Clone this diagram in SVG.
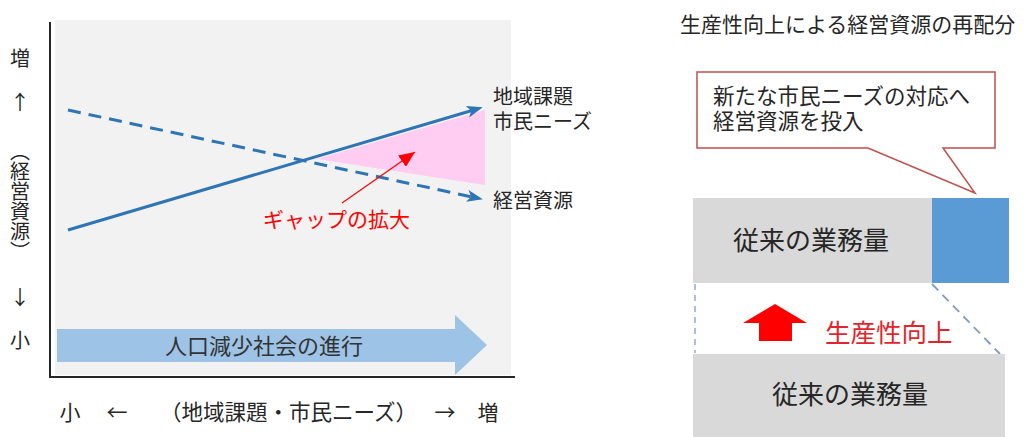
<svg xmlns="http://www.w3.org/2000/svg" width="1029" height="437" viewBox="0 0 1029 437">
<style>
text{font-family:"Noto Sans CJK JP","Noto Sans",sans-serif;fill:#262626}
.lbl{font-size:20px}
.red{fill:#ff0000}
</style>
<defs>
<marker id="ahb" viewBox="0 0 16 12" refX="10" refY="6" markerWidth="16" markerHeight="12" markerUnits="userSpaceOnUse" orient="auto"><path d="M0,0 L16,6 L0,12 L4,6 Z" fill="#2e75b6"/></marker>
<marker id="ahr" viewBox="0 0 16 14" refX="16" refY="7" markerWidth="16" markerHeight="14" markerUnits="userSpaceOnUse" orient="auto"><path d="M0,0 L16,7 L0,14 Z" fill="#ff0000"/></marker>
</defs>
<rect width="1029" height="437" fill="#ffffff"/>

<g id="chart">
<rect x="55" y="20" width="456" height="355" fill="#f2f2f2"/>
<polygon points="317,159 485,110 485,185" fill="#ffccf2"/>
<line x1="50" y1="22" x2="50" y2="378" stroke="#262626" stroke-width="2"/>
<line x1="50" y1="377" x2="515" y2="377" stroke="#262626" stroke-width="2"/>
</g>

<g id="connectors">
<line x1="68" y1="230" x2="477" y2="109" stroke="#2e75b6" stroke-width="3" marker-end="url(#ahb)"/>
<line x1="68" y1="110" x2="477" y2="198" stroke="#2e75b6" stroke-width="3" stroke-dasharray="13 8" marker-end="url(#ahb)"/>
<line x1="342" y1="203" x2="415" y2="152" stroke="#ff0000" stroke-width="1.2" marker-end="url(#ahr)"/>
<line x1="695" y1="284" x2="695" y2="353" stroke="#8faadc" stroke-width="1.5" stroke-dasharray="6 5"/>
<line x1="932" y1="284" x2="1000" y2="354" stroke="#7f9bbf" stroke-width="1.8" stroke-dasharray="9 6"/>
</g>

<g id="labels-lines">
<text class="lbl" x="493" y="104">地域課題<tspan x="493" y="129">市民ニーズ</tspan></text>
<text class="lbl" x="493" y="208">経営資源</text>
<text class="red" x="263" y="227" font-size="21">ギャップの拡大</text>
</g>

<g id="y-axis-label">
<text class="lbl" x="20" y="66" text-anchor="middle">増</text>
<text class="lbl" x="20" y="110" text-anchor="middle">↑</text>
<text class="lbl" x="20" y="141" style="writing-mode:vertical-rl">（経営資源）</text>
<text class="lbl" x="20" y="305" text-anchor="middle">↓</text>
<text class="lbl" x="20" y="348" text-anchor="middle">小</text>
</g>

<g id="x-axis-label">
<text x="70" y="420" font-size="21" text-anchor="middle">小</text>
<text x="117" y="420" font-size="21" text-anchor="middle">←</text>
<text x="160" y="420" font-size="21.5">（地域課題・市民ニーズ）</text>
<text x="445" y="420" font-size="21" text-anchor="middle">→</text>
<text x="488" y="420" font-size="21" text-anchor="middle">増</text>
</g>

<g id="population-arrow">
<polygon points="57,329 455,329 455,315 487,345 455,375 455,362 57,362" fill="#9dc3e6"/>
<text x="264" y="354" font-size="22" text-anchor="middle" style="fill:#333">人口減少社会の進行</text>
</g>

<g id="title">
<text x="680" y="32" font-size="21">生産性向上による経営資源の再配分</text>
</g>

<g id="callout">
<path d="M697,72 L995,72 L995,148 L943,148 L975,193 L868,148 L697,148 Z" fill="#ffffff" stroke="#c0504d" stroke-width="1.5" stroke-linejoin="miter"/>
<text x="713" y="104" font-size="21.5">新たな市民ニーズの対応へ<tspan x="713" y="129">経営資源を投入</tspan></text>
</g>

<g id="upper-bar">
<rect x="693" y="198" width="239" height="85" fill="#d9d9d9"/>
<rect x="932" y="198" width="77" height="85" fill="#5b9bd5"/>
<text x="811" y="250" font-size="26" text-anchor="middle">従来の業務量</text>
</g>

<g id="productivity">
<polygon points="775,304 807,323 792,323 792,341 759,341 759,323 743,323" fill="#ff0000"/>
<text x="825" y="342" font-size="25.5" style="fill:#e3242b">生産性向上</text>
</g>

<g id="lower-bar">
<rect x="693" y="354" width="312" height="83" fill="#d9d9d9"/>
<text x="850" y="404" font-size="26" text-anchor="middle">従来の業務量</text>
</g>
</svg>
